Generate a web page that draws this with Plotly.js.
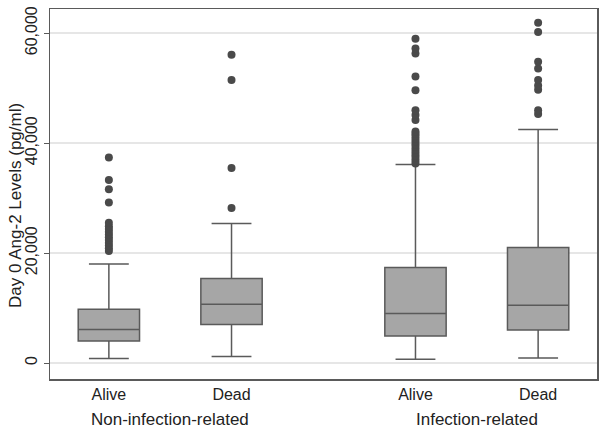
<!DOCTYPE html>
<html>
<head>
<meta charset="utf-8">
<script src="https://cdn.plot.ly/plotly-3.0.1.min.js"></script>
<style>
  body { margin: 0; background: #fff; }
  #chart { width: 604px; height: 434px; }
</style>
</head>
<body>
<div id="chart"></div>
<script>
// positions of the four boxes and their labels
var box_x = [1, 2, 3.5, 4.5];
var tick_labels = ["Alive", "Dead", "Alive", "Dead"];
var group_labels = ["Non-infection-related", "Infection-related"];
var group_x = [1.5, 4];

// box statistics (pg/ml)
var lower_whisker = [850, 1200, 700, 900];
var q1 = [4000, 7000, 4900, 6000];
var median = [6100, 10700, 9000, 10500];
var q3 = [9800, 15400, 17400, 21000];
var upper_whisker = [18000, 25400, 36100, 42500];

// outliers per box
var out_alive_noninf = [20400, 20900, 21400, 21900, 22400, 22900, 23400, 23900, 24400, 24900, 25500, 29200, 31600, 33300, 37400];
var out_dead_noninf = [28200, 35500, 51500, 56100];
var out_alive_inf = [36300, 36800, 37300, 37800, 38300, 38800, 39300, 39800, 40300, 40800, 41300, 41700, 42100, 44200, 45100, 46000, 49600, 52100, 56300, 57200, 59000];
var out_dead_inf = [45300, 46000, 49700, 50500, 51500, 53600, 54800, 60200, 61900];

var outliers = [out_alive_noninf, out_dead_noninf, out_alive_inf, out_dead_inf];

var line_col = "#5a5a5a";
var font_fam = "Liberation Sans, Arial, sans-serif";

var data = [{
    type: "box",
    x: box_x,
    q1: q1,
    median: median,
    q3: q3,
    lowerfence: lower_whisker,
    upperfence: upper_whisker,
    width: 0.5,
    whiskerwidth: 0.65,
    fillcolor: "#a6a6a6",
    line: {color: line_col, width: 1.5},
    hoverinfo: "skip",
    showlegend: false
}];

// outlier dots as a scatter trace
var ox = [];
var oy = [];
for (var i = 0; i < outliers.length; i++) {
    for (var j = 0; j < outliers[i].length; j++) {
        ox.push(box_x[i]);
        oy.push(outliers[i][j]);
    }
}
data.push({
    type: "scatter",
    mode: "markers",
    x: ox,
    y: oy,
    marker: {color: "#4a4a4a", size: 8},
    hoverinfo: "skip",
    showlegend: false
});

var annotations = [];
for (var k = 0; k < group_labels.length; k++) {
    annotations.push({
        text: group_labels[k],
        x: group_x[k],
        xref: "x",
        y: -0.11,
        yref: "paper",
        yanchor: "middle",
        xanchor: "center",
        showarrow: false,
        font: {family: font_fam, size: 17, color: "#222"}
    });
}

// y axis title, placed by hand like the Stata original
annotations.push({
    text: "Day 0 Ang-2 Levels (pg/ml)",
    textangle: -90,
    x: -0.062,
    xref: "paper",
    y: 0.468,
    yref: "paper",
    xanchor: "center",
    yanchor: "middle",
    showarrow: false,
    font: {family: font_fam, size: 17, color: "#222"}
});

var layout = {
    width: 604,
    height: 434,
    margin: {l: 50, r: 7, t: 9, b: 55},
    paper_bgcolor: "#fff",
    plot_bgcolor: "#fff",
    font: {family: font_fam, color: "#222"},
    xaxis: {
        range: [0.52, 4.98],
        tickvals: box_x,
        ticktext: tick_labels,
        ticks: "",
        showgrid: false,
        zeroline: false,
        showline: true,
        mirror: true,
        linecolor: line_col,
        linewidth: 1.5,
        tickfont: {size: 16, color: "#222"}
    },
    yaxis: {
        range: [-2900, 64400],
        tickvals: [0, 20000, 40000, 60000],
        ticktext: ["0", "20,000", "40,000", "60,000"],
        tickangle: -90,
        ticks: "outside",
        ticklen: 5,
        tickcolor: line_col,
        showgrid: true,
        gridcolor: "#e6e6e6",
        gridwidth: 1.5,
        zeroline: false,
        showline: true,
        mirror: true,
        linecolor: line_col,
        linewidth: 1.5,
        automargin: false,
        tickfont: {size: 16, color: "#222"}
    },
    annotations: annotations
};

Plotly.newPlot("chart", data, layout, {displayModeBar: false, staticPlot: true});
</script>
</body>
</html>
